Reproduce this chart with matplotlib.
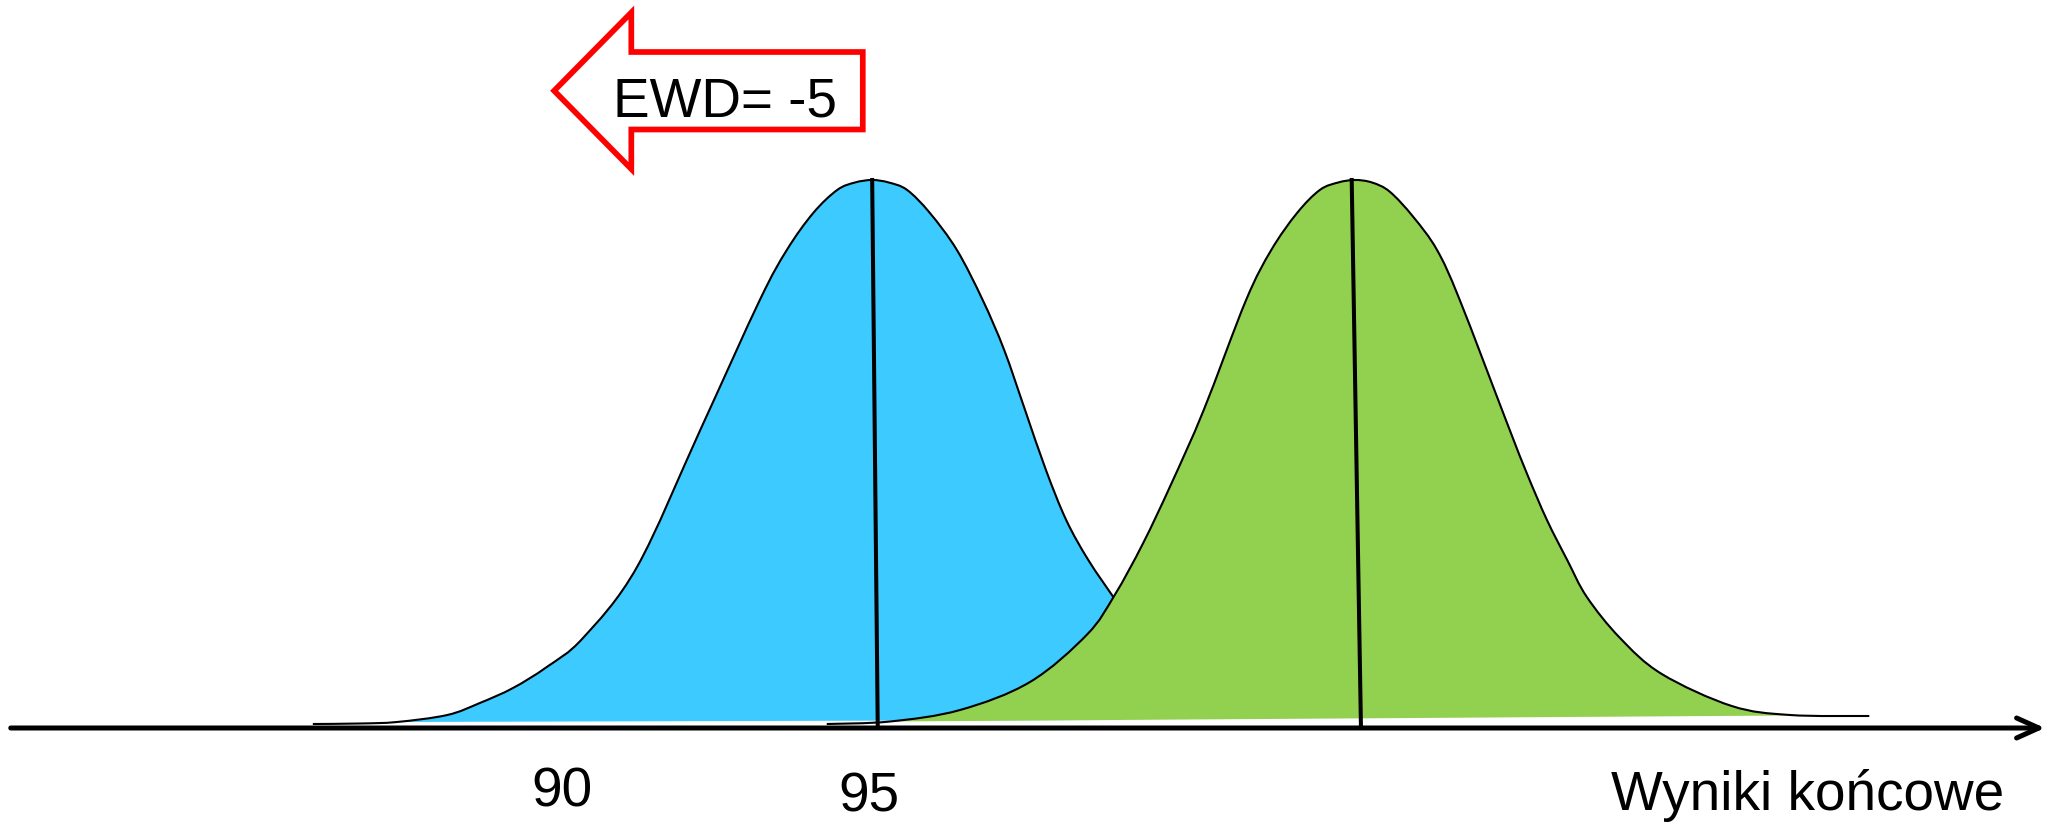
import numpy as np
import matplotlib.pyplot as plt
from matplotlib.patches import Polygon, PathPatch
from matplotlib.path import Path

plt.rcParams['font.family'] = ['Liberation Sans', 'DejaVu Sans']

# score (x) and relative height (h)
blue_x = [85.95, 86.72, 87.32, 88.14, 88.67, 89.21, 89.76, 90.35, 91.23, 92.26,
          93.23, 93.67, 94.10, 94.49, 94.78, 95.06,
          95.33, 95.63, 96.00, 96.44, 96.86, 97.21, 97.55, 97.89, 98.22, 98.58, 99.01]
blue_h = [4, 4.5, 6, 13, 25, 40, 61, 90, 161, 298,
          428, 478, 515, 538, 545.5, 548,
          545.5, 538, 515, 478, 428, 378, 318, 258, 208, 168, 129]
blue_base_x = [87.32, 99.01]
blue_base_h = [6, 8]

green_x = [94.32, 95.35, 96.49, 97.63, 98.56, 99.01, 99.47, 99.93, 100.46, 101.15,
           101.56, 101.98, 102.35, 102.65, 102.92,
           103.20, 103.49, 103.87, 104.26, 104.63, 105.40, 105.72, 106.05, 106.38, 106.70,
           107.24, 107.92, 109.06, 110.01, 111.30]
green_h = [4, 6.5, 18, 46, 93.5, 133, 184.5, 244, 318, 428,
           478, 515, 538, 545.5, 548,
           545.5, 536.3, 511.3, 478, 428, 305, 255, 208, 168, 131,
           90, 54, 22, 13, 12]
green_base_x = [95.35, 110.01]
green_base_h = [6.5, 12.5]

# mean lines (top, bottom)
blue_mean_x = [95.06, 95.15]
blue_mean_h = [548, 4]
green_mean_x = [102.87, 103.02]
green_mean_h = [548, 3]

tick_x = [90, 95]
tick_labels = ['90', '95']
axis_label = 'Wyniki końcowe'

# shift arrow (EWD)
ewd_text = 'EWD= -5'
ewd_x = [89.88, 91.137, 91.137, 94.907, 94.907, 91.137, 91.137]
ewd_h = [637.25, 715.5, 676, 676, 598.5, 598.5, 559]

blue = '#3DCAFF'
green = '#92D050'


def smooth(x, y):
    # catmull-rom through the read points, as bezier segments
    p = np.column_stack([x, y]).astype(float)
    p = np.vstack([p[0], p, p[-1]])
    verts = [p[1]]
    codes = [Path.MOVETO]
    for i in range(1, len(p) - 2):
        c1 = p[i] + (p[i + 1] - p[i - 1]) / 6
        c2 = p[i + 1] - (p[i + 2] - p[i]) / 6
        verts += [c1, c2, p[i + 1]]
        codes += [Path.CURVE4] * 3
    return verts, codes


def area(x, y, bx, by):
    verts, codes = smooth(x, y)
    verts += [(bx[1], by[1]), (bx[0], by[0]), (bx[0], by[0])]
    codes += [Path.LINETO, Path.LINETO, Path.CLOSEPOLY]
    return Path(verts, codes)


fig = plt.figure(figsize=(20.57, 8.22), dpi=100)
ax = fig.add_axes([0, 0, 1, 1])
ax.set_xlim(80.855, 114.357)
ax.set_ylim(-94, 728)
ax.axis('off')

# blue distribution
ax.add_patch(PathPatch(area(blue_x[2:], blue_h[2:], blue_base_x, blue_base_h),
                       facecolor=blue, lw=0, zorder=1))
ax.add_patch(PathPatch(Path(*smooth(blue_x, blue_h)), fill=False,
                       edgecolor='black', lw=1.5, zorder=2))

# green distribution
ax.add_patch(PathPatch(area(green_x[1:-1], green_h[1:-1], green_base_x, green_base_h),
                       facecolor=green, lw=0, zorder=3))
ax.add_patch(PathPatch(Path(*smooth(green_x, green_h)), fill=False,
                       edgecolor='black', lw=1.5, zorder=4))

ax.plot(blue_mean_x, blue_mean_h, color='black', lw=2.9, zorder=5)
ax.plot(green_mean_x, green_mean_h, color='black', lw=2.9, zorder=5)

# x axis with arrow
ax.annotate('', xy=(114.16, 0), xytext=(81.03, 0),
            arrowprops=dict(arrowstyle='->,head_length=0.8,head_width=0.36',
                            mutation_scale=20, lw=3.6, color='black',
                            shrinkA=0, shrinkB=0,
                            capstyle='round', joinstyle='round'),
            zorder=6)

ax.text(tick_x[0], -78.5, tick_labels[0], ha='center', va='baseline', fontsize=39.5)
ax.text(tick_x[1], -83.5, tick_labels[1], ha='center', va='baseline', fontsize=39.5)
ax.text(113.49, -82, axis_label, ha='right', va='baseline', fontsize=39.5)

ax.add_patch(Polygon(np.column_stack([ewd_x, ewd_h]), closed=True, fill=False,
                     edgecolor='#FF0000', lw=4.1, joinstyle='miter', zorder=7))
ax.text(90.84, 611.3, ewd_text, ha='left', va='baseline', fontsize=39.5, zorder=8)

fig.savefig('out.png', dpi=100)
